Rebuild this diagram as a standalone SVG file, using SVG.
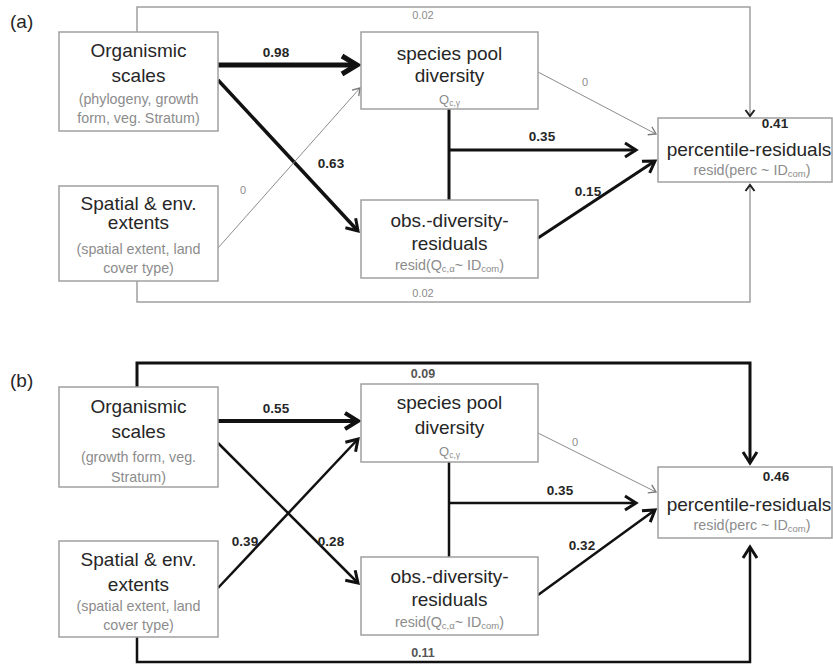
<svg xmlns="http://www.w3.org/2000/svg" width="833" height="664" viewBox="0 0 833 664">
<style>
.box{fill:#fff;stroke:#a0a0a0;stroke-width:1.5}
.t{font-family:"Liberation Sans",Arial,sans-serif;font-size:19px;fill:#262626;text-anchor:middle}
.s{font-family:"Liberation Sans",Arial,sans-serif;font-size:14.3px;fill:#8c8c8c;text-anchor:middle}
.q{font-family:"Liberation Sans",Arial,sans-serif;font-size:13px;fill:#8c8c8c;text-anchor:middle}
.b{font-family:"Liberation Sans",Arial,sans-serif;font-size:13.5px;font-weight:bold;fill:#262626;text-anchor:middle}
.g{font-family:"Liberation Sans",Arial,sans-serif;font-size:11px;fill:#8c8c8c;text-anchor:middle}
.gb{font-family:"Liberation Sans",Arial,sans-serif;font-size:12.5px;font-weight:bold;fill:#555;text-anchor:middle}
.p{font-family:"Liberation Sans",Arial,sans-serif;font-size:19px;fill:#262626}
.c{fill:none;stroke:#111;stroke-linejoin:miter}
.cg{fill:none;stroke:#8c8c8c;stroke-width:1}
.cl{fill:none;stroke:#a0a0a0;stroke-width:1.5}
</style>
<defs>
<marker id="mT" markerUnits="userSpaceOnUse" markerWidth="1" markerHeight="1" refX="0" refY="0" orient="auto" overflow="visible"><path d="M-15,-9 L0,0 L-15,9" fill="none" stroke="#111" stroke-width="5"/></marker>
<marker id="m4" markerUnits="userSpaceOnUse" markerWidth="1" markerHeight="1" refX="0" refY="0" orient="auto" overflow="visible"><path d="M-13,-8 L0,0 L-13,8" fill="none" stroke="#111" stroke-width="4"/></marker>
<marker id="m3" markerUnits="userSpaceOnUse" markerWidth="1" markerHeight="1" refX="0" refY="0" orient="auto" overflow="visible"><path d="M-11,-7 L0,0 L-11,7" fill="none" stroke="#111" stroke-width="3"/></marker>
<marker id="mg" markerUnits="userSpaceOnUse" markerWidth="1" markerHeight="1" refX="0" refY="0" orient="auto" overflow="visible"><path d="M-7,-4.5 L0,0 L-7,4.5" fill="none" stroke="#777" stroke-width="1.3"/></marker>
<marker id="ms" markerUnits="userSpaceOnUse" markerWidth="1" markerHeight="1" refX="0" refY="0" orient="auto" overflow="visible"><path d="M-6,-4.5 L0,0 L-6,4.5" fill="none" stroke="#222" stroke-width="2"/></marker>
</defs>
<rect width="833" height="664" fill="#fff"/>
<text class="p" x="10" y="28">(a)</text>
<text class="p" x="10" y="387">(b)</text>

<g id="connectors">
<polyline class="cl" points="137,32 137,7 750,7 750,116" marker-end="url(#ms)"/>
<polyline class="cl" points="137,281 137,302 750,302 750,185" marker-end="url(#ms)"/>
<line class="c" stroke-width="5" x1="218" y1="65" x2="357" y2="65" marker-end="url(#mT)"/>
<line class="c" stroke-width="3.5" x1="218" y1="80" x2="358" y2="231" marker-end="url(#m3)"/>
<line class="cg" x1="218" y1="248" x2="360" y2="88" marker-end="url(#mg)"/>
<line class="cg" x1="538" y1="72" x2="656" y2="134" marker-end="url(#mg)"/>
<line class="c" stroke-width="3" x1="449" y1="109" x2="449" y2="200"/>
<line class="c" stroke-width="3" x1="449" y1="150" x2="636" y2="150" marker-end="url(#m3)"/>
<line class="c" stroke-width="3" x1="538" y1="238" x2="655" y2="161" marker-end="url(#m3)"/>
<polyline class="c" stroke-width="3" points="137,387 137,363 750,363 750,463" marker-end="url(#m3)"/>
<polyline class="c" stroke-width="2.5" points="137,637 137,662 750,662 750,547" marker-end="url(#m3)"/>
<line class="c" stroke-width="4" x1="218" y1="421" x2="358" y2="421" marker-end="url(#m4)"/>
<line class="c" stroke-width="2.5" x1="218" y1="443" x2="358" y2="583" marker-end="url(#m3)"/>
<line class="c" stroke-width="2.5" x1="218" y1="588" x2="358" y2="439" marker-end="url(#m3)"/>
<line class="cg" x1="538" y1="433" x2="656" y2="492" marker-end="url(#mg)"/>
<line class="c" stroke-width="2.5" x1="449" y1="462" x2="449" y2="557"/>
<line class="c" stroke-width="2.5" x1="449" y1="503" x2="636" y2="503" marker-end="url(#m3)"/>
<line class="c" stroke-width="2.5" x1="538" y1="595" x2="655" y2="510" marker-end="url(#m3)"/>
</g>

<g id="labels">
<text class="g" x="423" y="19">0.02</text>
<text class="b" x="276" y="57">0.98</text>
<text class="b" x="331" y="168">0.63</text>
<text class="g" x="243" y="194">0</text>
<text class="g" x="585" y="86">0</text>
<text class="b" x="542" y="141">0.35</text>
<text class="b" x="588" y="196">0.15</text>
<text class="g" x="423" y="297">0.02</text>
<text class="gb" x="423" y="378">0.09</text>
<text class="b" x="276" y="413">0.55</text>
<text class="b" x="331" y="546">0.28</text>
<text class="b" x="245" y="546">0.39</text>
<text class="g" x="575" y="446">0</text>
<text class="b" x="560" y="495">0.35</text>
<text class="b" x="582" y="550">0.32</text>
<text class="gb" x="423" y="657">0.11</text>
</g>

<g id="a-organismic">
<rect class="box" x="59" y="32" width="159" height="99"/>
<text class="t" x="138.5" y="57">Organismic</text>
<text class="t" x="138.5" y="82">scales</text>
<text class="s" x="138.5" y="104">(phylogeny, growth</text>
<text class="s" x="138.5" y="123">form, veg. Stratum)</text>
</g>
<g id="a-spatial">
<rect class="box" x="59" y="186" width="159" height="95"/>
<text class="t" x="138.5" y="210">Spatial &amp; env.</text>
<text class="t" x="138.5" y="229">extents</text>
<text class="s" x="138.5" y="254">(spatial extent, land</text>
<text class="s" x="138.5" y="273">cover type)</text>
</g>
<g id="a-species">
<rect class="box" x="361" y="32" width="177" height="77"/>
<text class="t" x="449.5" y="60">species pool</text>
<text class="t" x="449.5" y="82">diversity</text>
<text class="q" x="449.5" y="104">Q<tspan font-size="8.5" dy="2">c,γ</tspan></text>
</g>
<g id="a-obs">
<rect class="box" x="361" y="200" width="177" height="78"/>
<text class="t" x="449.5" y="227">obs.-diversity-</text>
<text class="t" x="449.5" y="250">residuals</text>
<text class="s" x="449.5" y="270">resid(Q<tspan font-size="9.5" dy="2">c,α</tspan><tspan dy="-2">~ ID</tspan><tspan font-size="9.5" dy="2">com</tspan><tspan dy="-2">)</tspan></text>
</g>
<g id="a-percentile">
<rect class="box" x="658" y="118" width="174" height="64"/>
<text class="b" x="775" y="128">0.41</text>
<text class="t" x="749" y="156">percentile-residuals</text>
<text class="s" x="752" y="175">resid(perc ~ ID<tspan font-size="9.5" dy="2">com</tspan><tspan dy="-2">)</tspan></text>
</g>

<g id="b-organismic">
<rect class="box" x="59" y="387" width="159" height="100"/>
<text class="t" x="138.5" y="413">Organismic</text>
<text class="t" x="138.5" y="438">scales</text>
<text class="s" x="138.5" y="462">(growth form, veg.</text>
<text class="s" x="138.5" y="482">Stratum)</text>
</g>
<g id="b-spatial">
<rect class="box" x="59" y="541" width="159" height="96"/>
<text class="t" x="138.5" y="566">Spatial &amp; env.</text>
<text class="t" x="138.5" y="591">extents</text>
<text class="s" x="138.5" y="611">(spatial extent, land</text>
<text class="s" x="138.5" y="630">cover type)</text>
</g>
<g id="b-species">
<rect class="box" x="361" y="384" width="177" height="78"/>
<text class="t" x="449.5" y="409">species pool</text>
<text class="t" x="449.5" y="434">diversity</text>
<text class="q" x="449.5" y="456">Q<tspan font-size="8.5" dy="2">c,γ</tspan></text>
</g>
<g id="b-obs">
<rect class="box" x="361" y="557" width="177" height="78"/>
<text class="t" x="449.5" y="583">obs.-diversity-</text>
<text class="t" x="449.5" y="606">residuals</text>
<text class="s" x="449.5" y="627">resid(Q<tspan font-size="9.5" dy="2">c,α</tspan><tspan dy="-2">~ ID</tspan><tspan font-size="9.5" dy="2">com</tspan><tspan dy="-2">)</tspan></text>
</g>
<g id="b-percentile">
<rect class="box" x="658" y="467" width="174" height="71"/>
<text class="b" x="776" y="481">0.46</text>
<text class="t" x="749" y="511">percentile-residuals</text>
<text class="s" x="752" y="530">resid(perc ~ ID<tspan font-size="9.5" dy="2">com</tspan><tspan dy="-2">)</tspan></text>
</g>
</svg>
